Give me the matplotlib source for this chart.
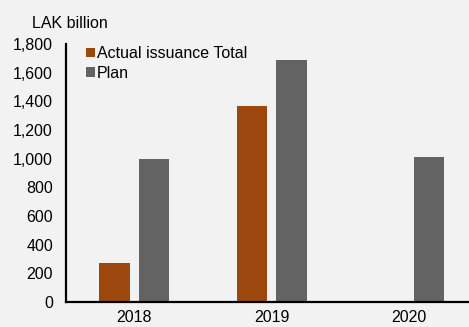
import numpy as np
import matplotlib.pyplot as plt

plt.rcParams['font.family'] = ['Liberation Sans', 'DejaVu Sans']

years = ["2018", "2019", "2020"]
actual = [275, 1370, np.nan]
plan = [1000, 1690, 1015]
y_ticks = [0, 200, 400, 600, 800, 1000, 1200, 1400, 1600, 1800]

c_actual = "#9c470e"
c_plan = "#636363"
bg = "#f2f2f2"
fs = 11.5

fig = plt.figure(figsize=(4.69, 3.27), dpi=100, facecolor=bg)
ax = fig.add_axes([65.5 / 469, 25 / 327, 412.5 / 469, 258 / 327], facecolor=bg)

x = np.arange(len(years))
w = 0.22
off = 0.143
ax.bar(x - off, actual, w, color=c_actual, label="Actual issuance Total")
ax.bar(x + off, plan, w, color=c_plan, label="Plan")

ax.set_xlim(-0.5, 2.5)
ax.set_ylim(0, 1800)
ax.set_yticks(y_ticks)
ax.set_yticklabels([f"{v:,}" for v in y_ticks])
ax.set_xticks(x)
ax.set_xticklabels(years)
ax.tick_params(axis='both', length=0, labelsize=fs, colors='#000000')
ax.tick_params(axis='y', pad=9)
ax.tick_params(axis='x', pad=6)

for s in ['top', 'right']:
    ax.spines[s].set_visible(False)
for s in ['left', 'bottom']:
    ax.spines[s].set_linewidth(1.6)
    ax.spines[s].set_color('black')

fig.text(32 / 469, 1 - 24 / 327, "LAK billion", fontsize=fs, va='center', ha='left')

ax.legend(loc='upper left', bbox_to_anchor=(86 / 469, 1 - 46 / 327),
          bbox_transform=fig.transFigure, frameon=False, fontsize=fs,
          handlelength=0.55, handleheight=0.55, handletextpad=0.15,
          labelspacing=0.3, borderaxespad=0, borderpad=0)

fig.savefig("out.png", dpi=100, facecolor=bg)
